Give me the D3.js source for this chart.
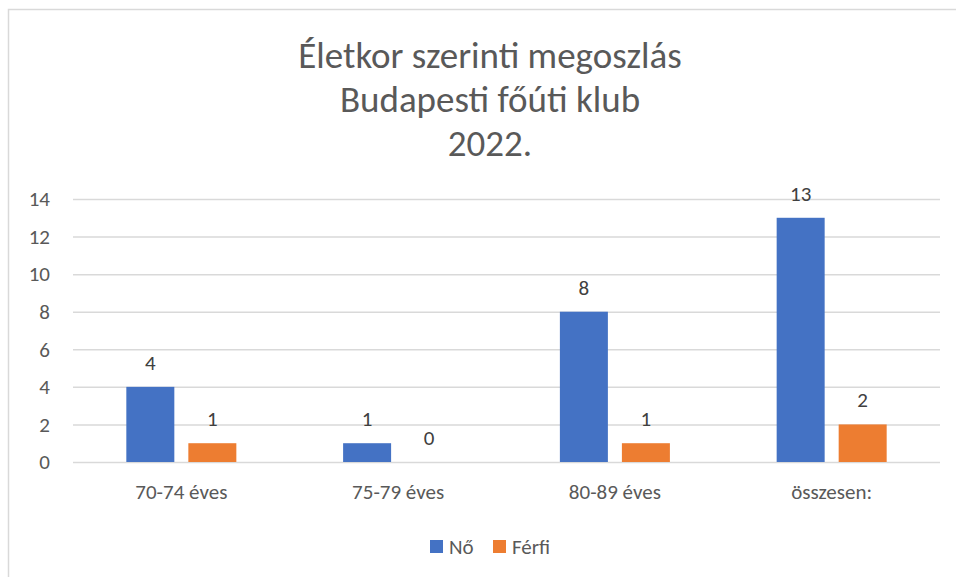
<!DOCTYPE html>
<html>
<head>
<meta charset="utf-8">
<script src="https://cdn.jsdelivr.net/npm/d3@7"></script>
<style>
  body { margin: 0; background: #fff; }
  text { font-family: Carlito, Lato, "Open Sans", sans-serif; }
</style>
</head>
<body>
<script>
// Data
var categories = ["70-74 éves", "75-79 éves", "80-89 éves", "összesen:"];
var seriesNames = ["Nő", "Férfi"];
var noValues = [4, 1, 8, 13];
var ferfiValues = [1, 0, 1, 2];
var yTicks = [0, 2, 4, 6, 8, 10, 12, 14];
var titleLines = ["Életkor szerinti megoszlás", "Budapesti főúti klub", "2022."];

var colors = { "Nő": "#4472C4", "Férfi": "#ED7D31" };

var svgWidth = 956;
var svgHeight = 577;

var margin = { top: 199, right: 16, bottom: 115, left: 73 };
var chartWidth = svgWidth - margin.left - margin.right;
var chartHeight = svgHeight - margin.top - margin.bottom;

var tableData = categories.map(function(c, i) {
  return { category: c, values: [
    { name: "Nő", value: noValues[i] },
    { name: "Férfi", value: ferfiValues[i] }
  ]};
});

var svg = d3.select("body")
  .append("svg")
  .attr("width", svgWidth)
  .attr("height", svgHeight);

// chart border (only top & left visible in the crop)
svg.append("rect")
  .attr("x", 8.5)
  .attr("y", 9.5)
  .attr("width", 980)
  .attr("height", 600)
  .attr("fill", "none")
  .attr("stroke", "#d9d9d9")
  .attr("stroke-width", 1.5);

// title
svg.append("g")
  .selectAll("text")
  .data(titleLines)
  .enter()
  .append("text")
  .attr("x", 490)
  .attr("y", (d, i) => 68 + i * 44)
  .attr("text-anchor", "middle")
  .attr("font-size", "37px")
  .attr("fill", "#595959")
  .text(d => d);

var chartGroup = svg.append("g")
  .attr("transform", `translate(${margin.left}, ${margin.top})`);

var x0 = d3.scaleBand()
  .domain(categories)
  .range([0, chartWidth])
  .paddingInner(0.4925)
  .paddingOuter(0.246);

var x1 = d3.scaleBand()
  .domain(seriesNames)
  .range([0, x0.bandwidth()])
  .paddingInner(0.226);

var yScale = d3.scaleLinear()
  .domain([0, 14])
  .range([chartHeight, 0]);

// gridlines + y labels
var leftAxis = d3.axisLeft(yScale)
  .tickValues(yTicks)
  .tickSize(-chartWidth)
  .tickPadding(23)
  .tickFormat(d3.format("d"));

var yAxisG = chartGroup.append("g").call(leftAxis);
yAxisG.select(".domain").remove();
yAxisG.selectAll(".tick line")
  .attr("stroke", "#d9d9d9")
  .attr("stroke-width", 1.5);
yAxisG.selectAll(".tick text")
  .attr("fill", "#595959")
  .attr("font-size", "21px");

// x axis labels
var bottomAxis = d3.axisBottom(x0).tickSize(0).tickPadding(22);
var xAxisG = chartGroup.append("g")
  .attr("transform", `translate(0, ${chartHeight})`)
  .call(bottomAxis);
xAxisG.select(".domain").remove();
xAxisG.selectAll(".tick text")
  .attr("fill", "#595959")
  .attr("font-size", "21px");

// bars
var groups = chartGroup.selectAll(".cat")
  .data(tableData)
  .enter()
  .append("g")
  .attr("class", "cat")
  .attr("transform", d => `translate(${x0(d.category)}, 0)`);

groups.selectAll("rect")
  .data(d => d.values)
  .enter()
  .append("rect")
  .attr("x", d => x1(d.name))
  .attr("y", d => yScale(d.value))
  .attr("width", x1.bandwidth())
  .attr("height", d => chartHeight - yScale(d.value))
  .attr("fill", d => colors[d.name]);

groups.selectAll(".lbl")
  .data(d => d.values)
  .enter()
  .append("text")
  .attr("class", "lbl")
  .attr("x", d => x1(d.name) + x1.bandwidth() / 2)
  .attr("y", d => yScale(d.value) - 17)
  .attr("text-anchor", "middle")
  .attr("font-size", "21px")
  .attr("fill", "#404040")
  .text(d => d.value);

// legend
var legend = svg.append("g")
  .attr("transform", "translate(430, 540)");

var legendItems = legend.selectAll("g")
  .data(seriesNames)
  .enter()
  .append("g")
  .attr("transform", (d, i) => `translate(${i * 63}, 0)`);

legendItems.append("rect")
  .attr("width", 13)
  .attr("height", 13)
  .attr("fill", d => colors[d]);

legendItems.append("text")
  .attr("x", 19)
  .attr("y", 14)
  .attr("font-size", "21px")
  .attr("fill", "#595959")
  .text(d => d);
</script>
</body>
</html>
